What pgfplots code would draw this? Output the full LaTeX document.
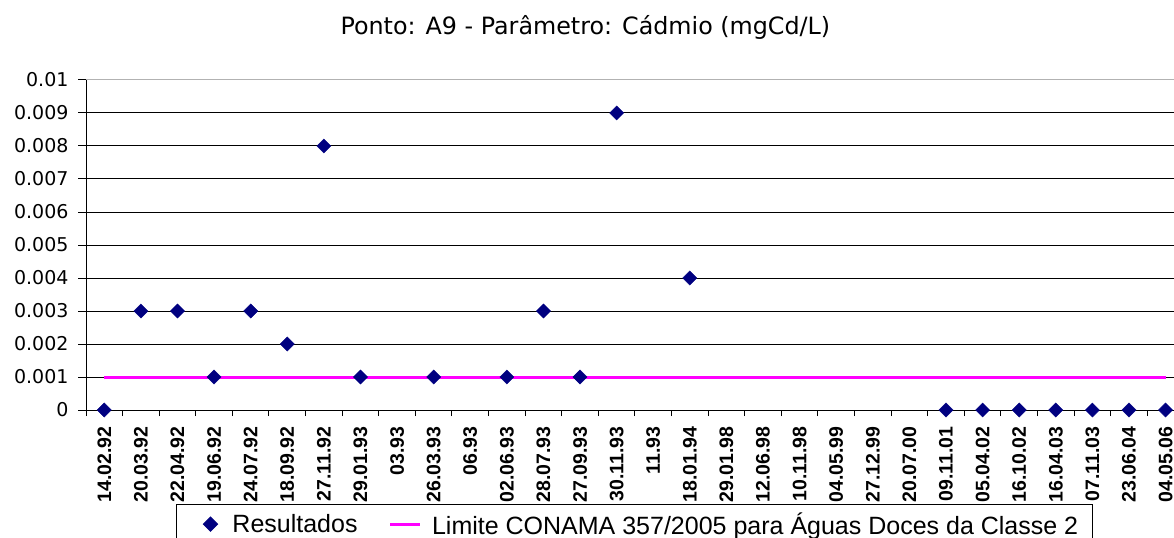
\documentclass[border=0pt]{standalone}
\usepackage{fontspec}
\setmainfont{Liberation Sans}
\newfontfamily\dejavu{DejaVu Sans}
\usepackage{pgfplots}
\pgfplotsset{compat=1.18}
\definecolor{navyc}{RGB}{0,0,128}
\definecolor{magc}{RGB}{255,0,255}
\pgfplotsset{
  resimg/.style={legend image code/.code={\path[draw=none] (0pt,0pt) -- (42pt,0pt); \path[##1, draw=none] plot[only marks, mark=square*, mark size=5pt, mark options={rotate=45, fill=navyc, draw=navyc}] coordinates {(20pt,0pt)};}},
  limimg/.style={legend image code/.code={\path[draw=none] (0pt,0pt) -- (42pt,0pt); \draw[magc, line width=3pt] (0pt,0pt) -- (30pt,0pt);}},
}
\begin{document}
\begin{tikzpicture}
\begin{axis}[
  name=ax,
  scale only axis,
  width=1088pt, height=330pt,
  xmin=-0.5, xmax=29.23,
  ymin=0, ymax=0.01,
  clip=false,
  axis x line*=bottom, axis y line*=left,
  axis line style={black, line width=1pt},
  xtick={0,...,29},
  xticklabels={14.02.92,20.03.92,22.04.92,19.06.92,24.07.92,18.09.92,27.11.92,29.01.93,03.93,26.03.93,06.93,02.06.93,28.07.93,27.09.93,30.11.93,11.93,18.01.94,29.01.98,12.06.98,10.11.98,04.05.99,27.12.99,20.07.00,09.11.01,05.04.02,16.10.02,16.04.03,07.11.03,23.06.04,04.05.06},
  major x tick style={draw=none},
  minor xtick={-0.5,0.5,...,28.5},
  minor x tick style={black, line width=1pt},
  tick align=outside,
  major tick length=8pt, minor tick length=6pt,
  ytick={0,0.001,0.002,0.003,0.004,0.005,0.006,0.007,0.008,0.009,0.01},
  major y tick style={black, line width=1pt},
  scaled y ticks=false,
  yticklabel style={font=\dejavu\fontsize{19}{23}\selectfont, anchor=east,
    /pgf/number format/fixed, /pgf/number format/precision=3, /pgf/number format/assume math mode=true},
  yticklabel shift=6pt,
  ymajorgrids, major grid style={black, line width=1pt},
  xticklabel style={font=\bfseries\fontsize{19.5}{23}\selectfont, rotate=90, anchor=east},
  xticklabel shift=5pt,
  title={Ponto: A9 - Parâmetro: Cádmio (mgCd/L)},
  title style={font=\dejavu\fontsize{23.8}{28}\selectfont, at={(axis description cs:0.459,1)}, anchor=base, yshift=39pt},
  legend style={at={(axis description cs:0.0827,-0.285)}, anchor=north west, draw=black, line width=1pt,
    inner xsep=14pt, inner ysep=8pt, font=\fontsize{25}{29}\selectfont, legend columns=2,
    nodes={inner sep=0pt, anchor=west}, /tikz/every even column/.append style={column sep=31pt}},
  legend cell align=left,
]
\addlegendimage{only marks, mark=square*, mark size=5pt, mark options={rotate=45, fill=navyc, draw=navyc}, resimg}
\addlegendentry{Resultados}
\addlegendimage{magc, line width=3pt, limimg}
\addlegendentry{Limite CONAMA 357/2005 para Águas Doces da Classe 2}
\draw[gray!60, line width=1pt] (rel axis cs:0,1) -- (rel axis cs:1,1);
\addplot[forget plot, magc, line width=3pt, no marks] coordinates {(0,0.001) (29,0.001)};
\addplot[forget plot, only marks, mark=square*, mark size=5pt, mark options={rotate=45, fill=navyc, draw=navyc}] coordinates {
(0,0) (1,0.003) (2,0.003) (3,0.001) (4,0.003) (5,0.002) (6,0.008) (7,0.001) (9,0.001) (11,0.001) (12,0.003) (13,0.001) (14,0.009) (16,0.004) (23,0) (24,0) (25,0) (26,0) (27,0) (28,0) (29,0)
};
\end{axis}
\pgfresetboundingbox
\useasboundingbox ([xshift=-86pt,yshift=80pt]ax.north west) rectangle ([yshift=-127pt]ax.south east);
\end{tikzpicture}
\end{document}
